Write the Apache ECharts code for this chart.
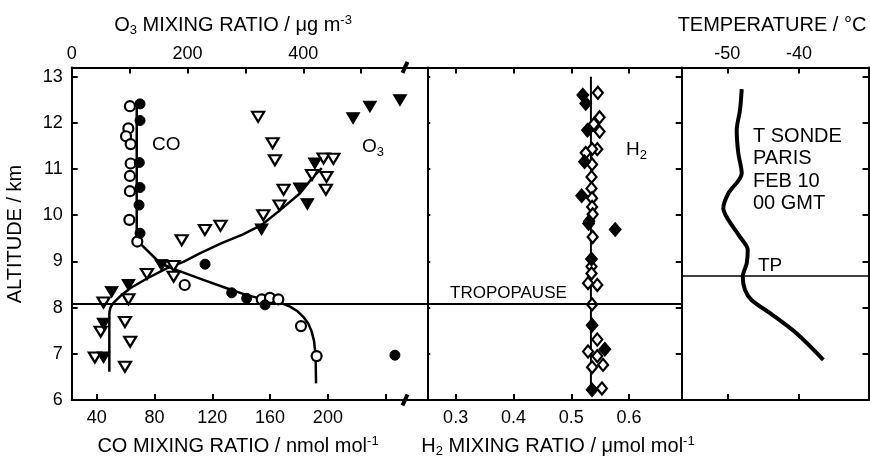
<!DOCTYPE html>
<html>
<head>
<meta charset="utf-8">
<script src="https://cdn.jsdelivr.net/npm/echarts@6/dist/echarts.min.js"></script>
<style>
  html, body { margin: 0; padding: 0; background: #fff; }
  #chart { width: 870px; height: 461px; }
</style>
</head>
<body>
<div id="chart"></div>
<script>
// ---- axis ticks ----
const altTicks = [6, 7, 8, 9, 10, 11, 12, 13];
const coTicks = [40, 80, 120, 160, 200, 240];
const coTickLabels = [40, 80, 120, 160, 200];
const o3Ticks = [0, 100, 200, 300, 400, 500];
const o3TickLabels = [0, 200, 400];
const h2Ticks = [0.3, 0.4, 0.5, 0.6];
const tempTicks = [-50, -40];

// ---- CO (nmol/mol) vs altitude (km) ----
const coOpen = [
  [63.0, 12.36], [61.9, 11.88], [60.3, 11.71], [63.5, 11.54], [63.5, 11.12],
  [63.0, 10.85], [63.0, 10.52], [62.6, 9.90], [68.1, 9.43], [100.9, 8.49],
  [154.2, 8.18], [159.9, 8.21], [165.7, 8.18], [181.4, 7.60], [192.2, 6.95]
];
const coFilled = [
  [70.0, 12.41], [70.0, 12.05], [69.5, 11.14], [70.0, 10.60], [69.3, 10.22],
  [70.0, 9.61], [115.0, 8.94], [133.4, 8.32], [143.8, 8.20], [156.5, 8.06],
  [246.4, 6.97]
];
const coFit = [
  [67.7, 12.42], [67.7, 9.46], [84.0, 8.96], [95.4, 8.81], [113.8, 8.60],
  [130.0, 8.42], [143.8, 8.27], [153.0, 8.20], [160.0, 8.16], [167.0, 8.11],
  [173.8, 8.02], [179.0, 7.92], [183.0, 7.80], [186.5, 7.65], [188.8, 7.48],
  [190.4, 7.28], [191.1, 7.08], [191.6, 6.80], [191.8, 6.36]
];

// ---- O3 (ug/m3) vs altitude (km) ----
const o3Open = [
  [322, 12.13], [347, 11.56], [351, 11.19], [435, 11.23], [452, 11.22],
  [415, 10.87], [440, 10.83], [439, 10.55], [366, 10.55], [359, 10.21],
  [331, 10.00], [257, 9.77], [230, 9.68], [190, 9.46], [130, 8.73],
  [176, 8.90], [176, 8.67], [98, 8.18], [55, 8.11], [50, 7.48],
  [92, 7.69], [101, 7.26], [40, 6.92], [92, 6.72]
];
const o3Filled = [
  [567, 12.49], [515, 12.35], [486, 12.10], [420, 11.12], [394, 10.58],
  [407, 10.24], [328, 9.69], [155, 8.92], [98, 8.49], [69, 8.34],
  [55, 7.65], [55, 6.92]
];
const o3Fit = [
  [65, 6.61], [65, 7.85], [65.5, 7.93], [67, 8.00], [70, 8.07], [76, 8.15],
  [85, 8.26], [101, 8.42], [130, 8.63], [164, 8.85], [193, 8.99], [222, 9.18],
  [260, 9.40], [295, 9.58], [328, 9.79], [360, 10.11], [394, 10.47],
  [417, 10.83], [432, 11.02]
];

// ---- H2 (umol/mol) vs altitude (km) ----
const h2Open = [
  [0.546, 12.65], [0.549, 12.12], [0.539, 11.97], [0.549, 11.81], [0.545, 11.43],
  [0.536, 11.43], [0.525, 11.35], [0.536, 11.10], [0.535, 10.83], [0.535, 10.58],
  [0.536, 10.37], [0.536, 10.18], [0.537, 10.02], [0.531, 9.87], [0.537, 9.53],
  [0.535, 8.89], [0.535, 8.74], [0.529, 8.53], [0.545, 8.49], [0.536, 8.07],
  [0.545, 7.31], [0.529, 7.05], [0.545, 6.95], [0.555, 6.76], [0.536, 6.71],
  [0.553, 6.25]
];
const h2Filled = [
  [0.520, 12.60], [0.525, 12.42], [0.528, 11.84], [0.523, 11.16], [0.518, 10.42],
  [0.530, 9.82], [0.576, 9.69], [0.535, 9.05], [0.536, 7.62], [0.558, 7.10],
  [0.536, 6.22]
];
const h2Fit = [[0.534, 13.0], [0.534, 6.2]];

// ---- radiosonde temperature (degC) vs altitude (km) ----
const tempProfile = [
  [-47.99, 12.73], [-48.23, 12.28], [-48.69, 11.84], [-48.47, 11.35], [-47.99, 10.91],
  [-49.86, 10.47], [-50.56, 10.15], [-49.86, 9.90], [-48.23, 9.53], [-47.15, 9.25],
  [-47.29, 8.96], [-47.85, 8.67], [-47.53, 8.38], [-46.60, 8.16], [-44.04, 7.88],
  [-40.32, 7.44], [-36.61, 6.87]
];
const tropopauseAlt = 8.09;
const sondeTropopauseAlt = 8.68;

// ---- layout ----
const FONT = "'Liberation Sans', Arial, Helvetica, sans-serif";
const TOP = 67.4, HEIGHT = 332.6;
const ALT_MIN = 6, ALT_MAX = 13.2;
const INK = '#000';

const tickStyle = (vals, len) => ({
  show: true, inside: true, length: len || 6, customValues: vals,
  lineStyle: { color: INK, width: 2 }
});
const labelStyle = (vals, margin) => vals ? ({
  show: true, customValues: vals, margin: margin, color: INK,
  fontSize: 18, fontFamily: FONT
}) : ({ show: false });

function xAxis(grid, pos, min, max, ticks, labels, margin) {
  return {
    type: 'value', gridIndex: grid, position: pos, min: min, max: max,
    axisLine: { show: true, onZero: false, lineStyle: { color: INK, width: 2 } },
    axisTick: tickStyle(ticks),
    axisLabel: labelStyle(labels, margin),
    splitLine: { show: false }
  };
}
function yAxis(grid, pos, ticks, labels, len) {
  return {
    type: 'value', gridIndex: grid, position: pos, min: ALT_MIN, max: ALT_MAX,
    axisLine: { show: true, onZero: false, lineStyle: { color: INK, width: 2 } },
    axisTick: tickStyle(ticks, len),
    axisLabel: labelStyle(labels, 9),
    splitLine: { show: false }
  };
}

const sub = { fontSize: 13, fontFamily: FONT, fill: INK, padding: [10, 0, 0, 0] };
const sup = { fontSize: 13, fontFamily: FONT, fill: INK, padding: [0, 0, 10, 0] };
function label(x, y, text, opts) {
  opts = opts || {};
  return {
    type: 'text', x: x, y: y, rotation: opts.rotation || 0, silent: true,
    style: {
      text: text, fill: INK, font: (opts.size || 18) + 'px ' + FONT,
      textAlign: opts.align || 'center', textVerticalAlign: 'middle',
      lineHeight: opts.lineHeight, rich: { sub: sub, sup: sup }
    }
  };
}

const line = (data, xi, yi, width, extra) => Object.assign({
  type: 'line', data: data, xAxisIndex: xi, yAxisIndex: yi,
  showSymbol: false, symbol: 'none', smooth: false, silent: true,
  lineStyle: { color: INK, width: width, join: 'round' }, z: 2
}, extra || {});
const scatter = (data, xi, yi, symbol, size, filled, rotate) => ({
  type: 'scatter', data: data, xAxisIndex: xi, yAxisIndex: yi, silent: true,
  symbol: symbol, symbolSize: size, symbolRotate: rotate || 0, z: 3,
  itemStyle: filled
    ? { color: INK, borderColor: INK, borderWidth: 1, opacity: 1 }
    : { color: '#fff', borderColor: INK, borderWidth: 2.2, opacity: 1 }
});
const hLine = (alt, width) => ({
  silent: true, symbol: ['none', 'none'], label: { show: false },
  lineStyle: { color: INK, width: width, type: 'solid', opacity: 1 },
  data: [{ yAxis: alt }]
});

const chart = echarts.init(document.getElementById('chart'), null, { renderer: 'canvas' });

const option = {
  animation: false,
  backgroundColor: '#fff',
  grid: [
    { left: 71.7, top: TOP, width: 355.6, height: HEIGHT, outerBoundsMode: 'none' },
    { left: 427.3, top: TOP, width: 254.4, height: HEIGHT, outerBoundsMode: 'none' },
    { left: 681.7, top: TOP, width: 186.8, height: HEIGHT, outerBoundsMode: 'none' }
  ],
  xAxis: [
    xAxis(0, 'bottom', 22.7, 268.8, coTicks, coTickLabels, 9),
    xAxis(0, 'top', 0, 614.2, o3Ticks, o3TickLabels, 4),
    xAxis(1, 'bottom', 0.251, 0.691, h2Ticks, h2Ticks, 9),
    xAxis(1, 'top', 0.251, 0.691, h2Ticks, null),
    xAxis(2, 'bottom', -56.36, -30.31, tempTicks, null),
    xAxis(2, 'top', -56.36, -30.31, tempTicks, tempTicks, 4)
  ],
  yAxis: [
    yAxis(0, 'left', altTicks, altTicks),
    yAxis(1, 'left', altTicks, null, 3),
    yAxis(1, 'right', altTicks, null),
    yAxis(2, 'right', altTicks, null)
  ],
  series: [
    line(coFit, 0, 0, 2.5, { markLine: hLine(tropopauseAlt, 2) }),
    line(o3Fit, 1, 0, 2.5),
    scatter(o3Open, 1, 0, 'triangle', [12, 10], false, 180),
    scatter(o3Filled, 1, 0, 'triangle', [13, 11], true, 180),
    scatter(coOpen, 0, 0, 'circle', 10, false),
    scatter(coFilled, 0, 0, 'circle', 10, true),
    line(h2Fit, 2, 1, 2, { markLine: hLine(tropopauseAlt, 2) }),
    scatter(h2Open, 2, 1, 'diamond', [10, 12], false),
    scatter(h2Filled, 2, 1, 'diamond', [12, 14], true),
    line(tempProfile, 4, 3, 4, { smooth: 0.3, markLine: hLine(sondeTropopauseAlt, 1.5) })
  ],
  graphic: [
    label(233, 25, 'O{sub|3} MIXING RATIO / μg m{sup|-3}', { size: 20 }),
    label(772, 25, 'TEMPERATURE / °C', { size: 20 }),
    label(238, 446, 'CO MIXING RATIO / nmol mol{sup|-1}', { size: 20 }),
    label(558, 446, 'H{sub|2} MIXING RATIO / μmol mol{sup|-1}', { size: 20 }),
    label(15, 234, 'ALTITUDE / km', { rotation: Math.PI / 2, size: 20 }),
    label(152, 145, 'CO', { align: 'left', size: 19 }),
    label(362, 147, 'O{sub|3}', { align: 'left', size: 19 }),
    label(626, 150, 'H{sub|2}', { align: 'left', size: 19 }),
    label(450, 293, 'TROPOPAUSE', { align: 'left', size: 17 }),
    label(758, 266, 'TP', { align: 'left', size: 19 }),
    label(753, 170, 'T SONDE\nPARIS\nFEB 10\n00 GMT', { align: 'left', size: 20, lineHeight: 22.3 })
  ]
};
chart.setOption(option);

// axis break marks on the top and bottom frame of the left panel
const breakX = 405;
const breakMark = (y) => ({
  type: 'line', silent: true, z: 10,
  shape: { x1: breakX - 2.5, y1: y + 5.5, x2: breakX + 2.5, y2: y - 5.5 },
  style: { stroke: INK, lineWidth: 4 }
});
chart.setOption({
  graphic: option.graphic.concat([breakMark(TOP), breakMark(TOP + HEIGHT)])
});
</script>
</body>
</html>
